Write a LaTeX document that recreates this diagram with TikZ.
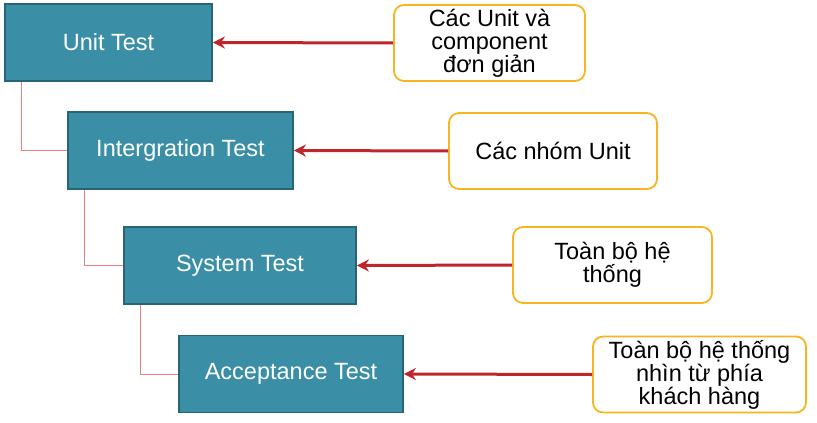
\documentclass[tikz,border=0pt]{standalone}
\usepackage{fontspec}
\setmainfont{Liberation Sans}
\usetikzlibrary{arrows.meta,positioning}
\definecolor{testteal}{RGB}{58,143,166}
\definecolor{testborder}{RGB}{38,100,118}
\definecolor{noteorange}{RGB}{249,180,30}
\definecolor{arrowred}{RGB}{190,38,44}
\definecolor{linkpink}{RGB}{228,128,128}

\begin{document}
\begin{tikzpicture}[
    x=1pt, y=-1pt,
    font=\fontsize{23.5}{23}\selectfont,
    level/.style={rectangle, draw=testborder, line width=1.8pt, fill=testteal, text=white, minimum height=77pt},
    scopebox/.style={rectangle, rounded corners=10pt, draw=noteorange, line width=1.8pt, fill=white, minimum height=76pt, align=center, inner sep=2pt},
    feed/.style={-{Stealth[length=12pt,width=12pt]}, line width=3pt, arrowred},
    link/.style={linkpink, line width=1pt}
]
\useasboundingbox (0,0) rectangle (817,423);

% Test levels
\node[level, minimum width=207pt] (unit) at (108.5,42.5) {Unit Test};
\node[level, minimum width=225pt] (integ) at (180.5,150.5) {Intergration Test};
\node[level, minimum width=232pt] (system) at (240,265.5) {System Test};
\node[level, minimum width=224pt] (accept) at (291,374) {Acceptance Test};

% Scope notes
\node[scopebox, minimum width=191pt] (unitnote) at (489.5,43) {Các Unit và\\component\\đơn giản};
\node[scopebox, minimum width=208pt] (integnote) at (553,151) {Các nhóm Unit};
\node[scopebox, minimum width=199pt] (systemnote) at (612.5,265) {Toàn bộ hệ\\thống};
\node[scopebox, minimum width=213pt] (acceptnote) at (699.5,374.5) {Toàn bộ hệ thống\\nhìn từ phía\\khách hàng};

% Links between levels
\draw[link] ([xshift=17pt]unit.south west) |- (integ.west);
\draw[link] ([xshift=17pt]integ.south west) |- (system.west);
\draw[link] ([xshift=17pt]system.south west) |- (accept.west);

% Arrows from notes
\draw[feed] (unitnote.west) -- (unit.east);
\draw[feed] (integnote.west) -- (integ.east);
\draw[feed] (systemnote.west) -- (system.east);
\draw[feed] (acceptnote.west) -- (accept.east);

\end{tikzpicture}
\end{document}
